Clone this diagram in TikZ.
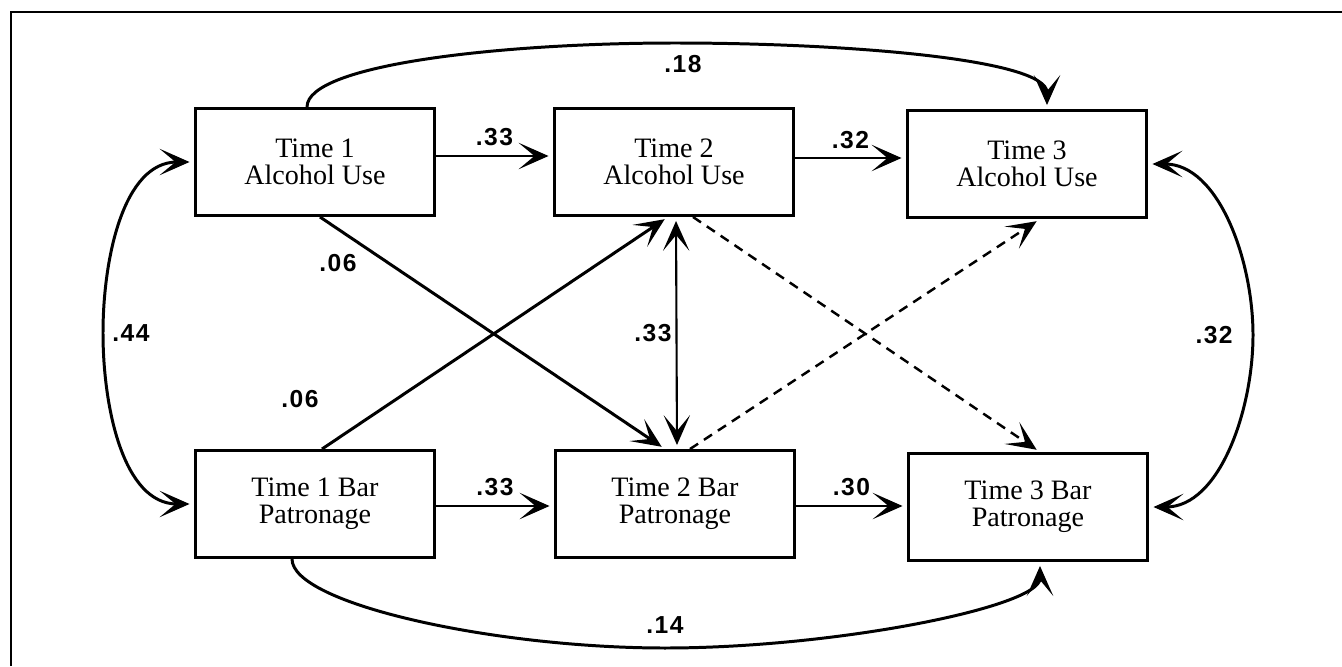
\documentclass[tikz,border=0pt]{standalone}
\usepackage{fontspec}
\setmainfont{Liberation Serif}
\newfontfamily\coeffont[LetterSpace=6]{Liberation Sans}
\usetikzlibrary{arrows.meta}

\tikzset{
  var/.style={draw, line width=1.7pt, minimum width=4.8cm, minimum height=2.14cm,
    inner sep=0pt, align=center, font=\fontsize{16}{15.5}\selectfont},
  effect/.style={line width=1.7pt, shorten >=0.08cm, -{Stealth[length=17pt, width=15pt, inset=9pt]}},
  corr/.style={line width=1.7pt, shorten >=0.08cm, shorten <=0.08cm,
    {Stealth[length=17pt, width=15pt, inset=9pt]}-{Stealth[length=17pt, width=15pt, inset=9pt]}},
  lagged/.style={effect, line width=1.4pt, dash pattern=on 5.5pt off 4pt},
  coef/.style={inner sep=0pt, font=\coeffont\bfseries\fontsize{14}{14}\selectfont}
}

\begin{document}
\begin{tikzpicture}[x=0.02cm, y=-0.02cm]
  \useasboundingbox (0,0) rectangle (1342,666);
  \draw[line width=0.9pt] (11,666) -- (11,12) -- (1342,12);

  \node[var] (a1) at (315,162) {Time 1\\Alcohol Use};
  \node[var] (a2) at (674,162) {Time 2\\Alcohol Use};
  \node[var] (a3) at (1027,164) {Time 3\\Alcohol Use};
  \node[var] (b1) at (315,504) {Time 1 Bar\\Patronage};
  \node[var] (b2) at (675,504) {Time 2 Bar\\Patronage};
  \node[var] (b3) at (1028,507) {Time 3 Bar\\Patronage};

  % stability paths
  \draw[effect] ([yshift=0.12cm]a1.east) -- ([yshift=0.12cm]a1.east -| a2.west)
    node[coef, midway, above=0.18cm] {.33};
  \draw[effect] ([yshift=0.08cm]a2.east) -- ([yshift=0.08cm]a2.east -| a3.west)
    node[coef, midway, above=0.16cm] {.32};
  \draw[effect] ([yshift=-0.04cm]b1.east) -- ([yshift=-0.04cm]b1.east -| b2.west)
    node[coef, midway, above=0.18cm] {.33};
  \draw[effect] ([yshift=-0.04cm]b2.east) -- ([yshift=-0.04cm]b2.east -| b3.west)
    node[coef, midway, above=0.18cm] {.30};

  \coordinate (top) at (675,43);
  \coordinate (bot) at (665,648);
  \draw[effect] ([xshift=-0.16cm]a1.north) .. controls +(0,-43) and +(-170,0) .. (top)
    .. controls +(170,0) and +(0,-50) .. ([xshift=0.4cm]a3.north);
  \node[coef, below=0.24cm, xshift=0.16cm] at (top) {.18};
  \draw[effect] ([xshift=-0.46cm]b1.south) .. controls +(0,45) and +(-170,0) .. (bot)
    .. controls +(170,0) and +(0,45) .. ([xshift=0.24cm]b3.south);
  \node[coef, above=0.28cm] at (bot) {.14};

  % cross-lagged paths
  \draw[effect] ([xshift=0.1cm]a1.south) -- ([xshift=-0.2cm]b2.north);
  \node[coef] at ([shift={(0.46cm,-0.93cm)}]a1.south) {.06};
  \draw[effect] ([xshift=0.14cm]b1.north) -- ([xshift=-0.12cm]a2.south);
  \node[coef] at ([shift={(-0.3cm,1cm)}]b1.north) {.06};
  \draw[lagged] ([xshift=0.38cm]a2.south) -- ([xshift=0.24cm]b3.north);
  \draw[lagged] ([xshift=0.3cm]b2.north) -- ([xshift=0.26cm]a3.south);

  % correlations
  \draw[corr, line width=1.2pt] ([xshift=0.04cm]a2.south) -- ([xshift=0.04cm]b2.north)
    node[coef, midway, left=0.08cm] {.33};
  \coordinate (lft) at (103,333);
  \coordinate (rgt) at (1253,335);
  \draw[corr] (a1.west) .. controls +(-70,0) and +(0,-75) .. (lft)
    .. controls +(0,75) and +(-70,0) .. (b1.west);
  \node[coef, right=0.18cm] at (lft) {.44};
  \draw[corr] (a3.east) .. controls +(70,0) and +(0,-75) .. (rgt)
    .. controls +(0,75) and +(70,0) .. (b3.east);
  \node[coef, left=0.4cm] at (rgt) {.32};
\end{tikzpicture}
\end{document}
